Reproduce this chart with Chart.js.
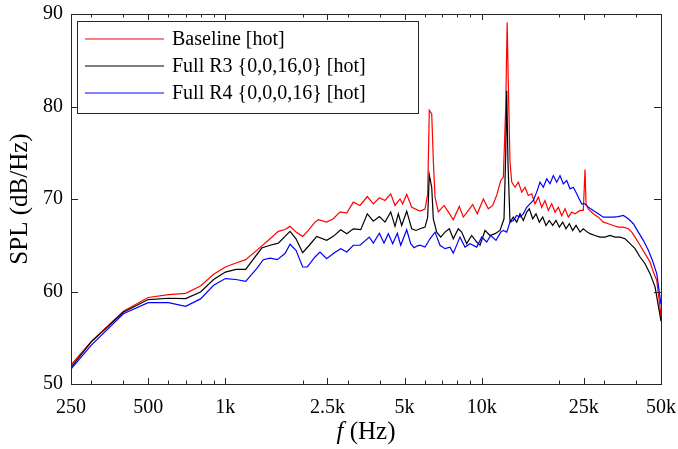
<!DOCTYPE html>
<html>
<head>
<meta charset="utf-8">
<script src="https://cdn.jsdelivr.net/npm/chart.js@4.4.1/dist/chart.umd.min.js"></script>
<style>
  html, body { margin: 0; padding: 0; background: #fff; }
</style>
</head>
<body>
<canvas id="spl" width="678" height="449"></canvas>
<script>
// 频率 (Hz) 和 SPL (dB/Hz)，从图上读出来的
const fBase = [250,300,400,500,600,700,800,900,1000,1100,1200,1325,1494,1609,1708,1787,1886,2002,2106,2236,2304,2484,2636,2800,2974,3155,3351,3578,3776,3986,4194,4414,4588,4799,4916,5096,5330,5743,6007,6150,6243,6379,6471,6571,6768,7124,7404,7743,8171,8472,8780,9217,9606,10139,10604,11030,11434,11856,12134,12400,12560,12700,12886,13087,13479,13884,14314,14744,15186,15656,16128,16614,17128,17644,18177,18738,19303,19886,20500,21118,21755,22426,23103,24164,24887,25268,25500,26031,27227,28478,29785,31155,32584,34082,35647,37285,38446,39606,41421,43324,45316,46683,48128,50000];
const splBase = [52.05,54.6,57.87,59.35,59.67,59.8,60.6,61.86,62.65,63.08,63.44,64.45,65.7,66.5,66.7,67.04,66.42,65.96,66.6,67.5,67.76,67.5,67.86,68.6,68.47,69.66,69.3,70.27,69.48,70.13,69.84,70.56,69.3,70.0,69.48,70.5,69.1,68.7,68.9,70.5,79.6,79.2,74.2,70.2,68.6,69.3,68.6,67.76,69.2,68.04,68.6,69.4,68.4,70.0,68.94,69.3,70.4,72.0,72.35,80,89.1,82,74,71.82,71.27,71.82,70.74,71.27,70.38,70.56,69.48,70.2,69.1,69.84,68.76,69.48,68.58,69.1,68.2,68.94,68.04,68.58,68.4,68.76,68.76,73.2,69.5,68.9,68.4,68.04,67.5,67.33,67.14,66.96,66.96,66.78,66.42,65.88,65.0,64.09,63.19,62.1,61.21,57.4];

const fR3 = [250,300,400,500,600,700,800,900,1000,1100,1200,1386,1494,1609,1787,1886,2002,2125,2271,2484,2636,2818,2974,3155,3372,3578,3776,3986,4194,4414,4588,4726,4872,5096,5330,5540,5743,6007,6150,6243,6379,6471,6672,6915,7188,7470,7743,8098,8348,8733,9135,9555,9843,10295,10767,11261,11780,12211,12400,12512,12650,12886,13275,13686,14097,14521,14970,15323,15797,16274,16764,17282,17803,18341,18907,19477,20065,20685,21309,21951,22629,23312,24164,24887,25798,26430,27650,28921,30247,31637,33091,34612,36200,37865,39606,41421,43324,45316,47401,50000];
const splR3 = [51.8,54.56,57.76,59.13,59.27,59.24,59.95,61.3,62.1,62.4,62.4,64.7,65.0,65.23,66.5,65.7,64.2,65.0,65.96,65.53,65.96,66.68,66.25,66.78,66.68,68.4,67.6,68.1,67.5,68.6,67.04,68.4,67.14,68.68,66.78,66.6,66.78,66.96,68,72.6,71.27,67.86,66.42,65.88,66.42,66.78,65.7,66.78,66.42,65.17,66.06,65.35,65.0,66.6,66.06,66.25,66.6,67.86,75,81.7,74,67.5,68.04,67.5,68.4,67.68,68.58,68.94,67.86,68.4,67.5,68.04,67.14,67.68,67.14,67.68,66.96,67.5,66.78,67.33,66.6,67.14,66.42,66.78,66.42,66.25,66.06,65.88,65.88,66.06,65.88,65.88,65.7,65.17,64.63,63.73,63.0,61.93,60.5,56.8];

const fR4 = [250,300,400,500,600,700,800,900,1000,1100,1200,1325,1406,1494,1594,1708,1787,1886,2002,2087,2236,2339,2484,2636,2818,2974,3155,3351,3643,3776,3986,4156,4320,4494,4684,4829,5096,5283,5441,5575,5743,6007,6282,6571,6872,7188,7517,7743,8222,8601,8997,9555,9994,10453,10834,11362,11856,12134,12512,12886,13275,13686,14097,14521,14970,15419,15884,16376,16869,17378,17918,18455,19011,19603,20190,20800,21447,22088,22754,23462,23799,24534,25268,26031,27227,28478,29785,31155,32584,34082,35647,37285,39007,40796,42661,44624,46266,48128,50000];
const splR4 = [51.6,54.2,57.6,58.8,58.8,58.4,59.2,60.67,61.4,61.3,61.1,62.47,63.44,63.6,63.44,64.1,65.1,64.45,62.65,62.65,63.73,64.27,63.55,64.1,64.63,64.27,65.0,65.0,65.88,65.23,66.3,65.23,66.25,65.17,66.3,65.0,66.68,65.17,64.74,64.9,65.0,64.8,65.7,66.42,65.0,64.63,64.8,64.15,65.88,64.8,65.17,64.8,65.88,65.35,66.06,65.53,66.42,66.6,66.42,67.5,67.68,68.22,68.04,68.4,69.1,69.48,69.84,70.74,71.82,71.27,72.18,71.64,72.53,71.82,72.53,71.64,72.0,71.1,71.27,70.56,70.2,69.48,69.48,69.1,68.76,68.4,68.04,68.04,68.04,68.1,68.22,67.86,67.33,66.42,65.53,64.45,63.37,61.93,58.6];

// 刻度
const xTickValues = [250,300,400,500,600,700,800,900,1000,2000,2500,3000,4000,5000,6000,7000,8000,9000,10000,20000,25000,30000,40000,50000];
const xLabelValues = [250,500,1000,2500,5000,10000,25000,50000];
const xLabelText = ['250','500','1k','2.5k','5k','10k','25k','50k'];
const yTickValues = [50,60,70,80,90];

const seriesNames = ['Baseline [hot]', 'Full R3 {0,0,16,0} [hot]', 'Full R4 {0,0,0,16} [hot]'];
const seriesColors = ['#ff0000', '#000000', '#0000ff'];

const FONT = "'Liberation Serif', 'Times New Roman', serif";
const AXIS = '#262626';

const toXY = (fs, vs) => fs.map((f, i) => ({ x: f, y: vs[i] }));

// 不让刻度文字把绘图区挤小
const noLabelPadding = s => { s.paddingLeft = 0; s.paddingRight = 0; s.paddingTop = 0; s.paddingBottom = 0; };

// 坐标框、朝内的刻度、图例和轴标题都在这里画
const matlabAxes = {
  id: 'matlabAxes',
  afterDatasetsDraw(chart) {
    const { ctx, chartArea: a, scales: { x, y } } = chart;
    ctx.save();
    ctx.strokeStyle = AXIS;
    ctx.lineWidth = 1;
    ctx.beginPath();
    xTickValues.forEach(v => {
      const px = Math.round(x.getPixelForValue(v)) + 0.5;
      const len = xLabelValues.includes(v) ? 6 : 3.5;
      ctx.moveTo(px, a.bottom); ctx.lineTo(px, a.bottom - len);
      ctx.moveTo(px, a.top); ctx.lineTo(px, a.top + len);
    });
    yTickValues.forEach(v => {
      const py = Math.round(y.getPixelForValue(v)) + 0.5;
      ctx.moveTo(a.left, py); ctx.lineTo(a.left + 7, py);
      ctx.moveTo(a.right, py); ctx.lineTo(a.right - 7, py);
    });
    ctx.stroke();
    ctx.strokeRect(Math.round(a.left) + 0.5, Math.round(a.top) + 0.5,
                   Math.round(a.right - a.left), Math.round(a.bottom - a.top));

    // 图例
    const lx = a.left + 6, ly = a.top + 7;
    ctx.fillStyle = '#fff';
    ctx.fillRect(Math.round(lx) + 0.5, Math.round(ly) + 0.5, 341, 92);
    ctx.strokeRect(Math.round(lx) + 0.5, Math.round(ly) + 0.5, 341, 92);
    ctx.font = '20px ' + FONT;
    ctx.textBaseline = 'middle';
    ctx.textAlign = 'left';
    seriesNames.forEach((name, i) => {
      const yy = ly + 18 + i * 27;
      ctx.strokeStyle = seriesColors[i];
      ctx.lineWidth = 1.2;
      ctx.beginPath();
      ctx.moveTo(lx + 8, yy); ctx.lineTo(lx + 87, yy);
      ctx.stroke();
      ctx.fillStyle = '#000';
      ctx.fillText(name, lx + 95, yy + 1);
    });

    // x 轴标题，f 用斜体
    ctx.fillStyle = '#000';
    const cx = (a.left + a.right) / 2, ty = 432;
    ctx.font = 'italic 25px ' + FONT;
    const wf = ctx.measureText('f').width;
    ctx.font = '25px ' + FONT;
    const wr = ctx.measureText(' (Hz)').width;
    const sx = cx - (wf + wr) / 2;
    ctx.font = 'italic 25px ' + FONT;
    ctx.fillText('f', sx, ty);
    ctx.font = '25px ' + FONT;
    ctx.fillText(' (Hz)', sx + wf, ty);

    // y 轴标题
    ctx.translate(20, (a.top + a.bottom) / 2);
    ctx.rotate(-Math.PI / 2);
    ctx.textAlign = 'center';
    ctx.fillText('SPL (dB/Hz)', 0, 0);
    ctx.restore();
  }
};

new Chart(document.getElementById('spl'), {
  type: 'line',
  data: {
    datasets: [
      { label: seriesNames[0], data: toXY(fBase, splBase), borderColor: seriesColors[0], order: 3 },
      { label: seriesNames[1], data: toXY(fR3, splR3), borderColor: seriesColors[1], order: 2 },
      { label: seriesNames[2], data: toXY(fR4, splR4), borderColor: seriesColors[2], order: 1 }
    ]
  },
  options: {
    responsive: false,
    animation: false,
    elements: {
      line: { borderWidth: 1.2, tension: 0, fill: false },
      point: { radius: 0, hoverRadius: 0 }
    },
    layout: { padding: { left: 0, right: 17, top: 14, bottom: 0 } },
    plugins: { legend: { display: false }, tooltip: { enabled: false } },
    scales: {
      x: {
        type: 'logarithmic',
        min: 250, max: 50000,
        grid: { display: false, drawTicks: false, tickLength: 0 },
        border: { display: false },
        afterBuildTicks: s => { s.ticks = xTickValues.map(v => ({ value: v })); },
        afterFit: s => { s.height = 65; noLabelPadding(s); },
        ticks: {
          autoSkip: false, maxRotation: 0, padding: 12,
          color: '#000', font: { family: FONT, size: 20 },
          callback: v => { const i = xLabelValues.indexOf(v); return i < 0 ? '' : xLabelText[i]; }
        }
      },
      y: {
        min: 50, max: 90,
        grid: { display: false, drawTicks: false, tickLength: 0 },
        border: { display: false },
        afterBuildTicks: s => { s.ticks = yTickValues.map(v => ({ value: v })); },
        afterFit: s => { s.width = 71; noLabelPadding(s); },
        ticks: { padding: 8, color: '#000', font: { family: FONT, size: 20 } }
      }
    }
  },
  plugins: [matlabAxes]
});
</script>
</body>
</html>
